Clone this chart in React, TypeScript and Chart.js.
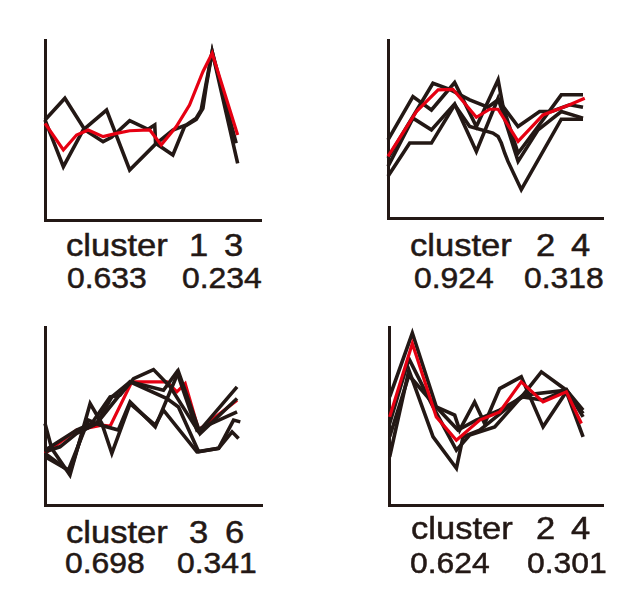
import React, { useEffect, useRef } from "react";
import { Chart, registerables } from "chart.js";
Chart.register(...registerables);

type P = [number, number];

// ---- data (x: position along time axis 0-100, y: relative expression 0-100) ----
const c1Red: P[] = [[0,53.7],[8.5,38.9],[14.6,47.2],[20,50],[26.9,46.3],[33.1,48.1],[39.2,49.6],[48.5,50],[53.8,41.7],[60.8,51.9],[66.9,63.9],[73.1,82.4],[77.4,92.6],[89.2,47.2]];
const c1A: P[] = [[0,55.6],[9.2,67.6],[18.5,50],[26.9,43.5],[30.8,45.9],[39.2,55.2],[47.7,50.4],[50.8,52.8],[51.2,42.6],[59.2,36.1],[64.6,51.9],[70,55.9],[73.1,62],[74.6,74.1],[77.4,93.5],[88.5,42.6]];
const c1B: P[] = [[0,55.6],[8.5,29.6],[17.7,50],[28.5,61.1],[39.2,27.8],[50.8,41.7],[59.2,50],[65.4,52.8],[70,56.5],[72.3,61.1],[74.6,75.9],[77.4,93.5],[89.2,31.5]];

const c2Red: P[] = [[0,34.6],[13.2,59.8],[23.3,72],[30.2,72.3],[41.1,56.6],[47.3,61.1],[51.2,61.1],[60.5,43],[72.1,57.9],[84.5,63.6],[91.5,67.3]];
const c2A: P[] = [[0,43.9],[11.6,68.2],[20.2,60.7],[31,76.1],[41.1,51.4],[51.2,77.6],[53.5,62.6],[60.5,36.4],[69.8,51.4],[80.6,69.2],[90.7,69.2]];
const c2B: P[] = [[0,33.6],[20.9,75.7],[28.7,72.3],[38,66.4],[46.5,62.2],[51.2,66.4],[60.5,51.4],[70.5,59.8],[76,59.8],[84.5,63.6],[90.7,62.2]];
const c2C: P[] = [[0,29],[11.6,56.1],[20.2,49.5],[31,64.1],[41.1,37.4],[51.2,67.3],[60.5,31.8],[69.8,49.5],[80.6,59.8],[90.7,56.1]];
const c2D: P[] = [[0,23.4],[10.1,42.1],[20.2,42.1],[31,63.6],[38,51.4],[48.8,47.7],[51.2,45.8],[52.7,42.1],[54.3,36.4],[55.8,31.8],[62,15.9],[80.6,55.5],[90.7,55.5]];

const c3Red: P[] = [[0,29],[14.6,42.1],[26.2,44.9],[30,44.3],[40,69.2],[56.2,69.2],[60.8,63.6],[64.6,68.2],[70.8,42.1],[88.5,58.9]];
const c3A: P[] = [[0,45.8],[3.1,31.8],[11.5,16.8],[20.8,57],[26.2,45.8],[30.8,29],[39.2,57],[50.8,44.9],[54.6,53.3],[70,29.9],[80,31.8],[86.2,41.1],[89.2,37.4]];
const c3B: P[] = [[0,30.8],[14.6,42.1],[21.5,45.8],[30,60.7],[34.6,61.7],[40.8,71],[50,76.1],[57.7,66.4],[70.8,41.1],[88.5,66.4]];
const c3C: P[] = [[0,27.1],[10.8,19.6],[20,47.7],[25.4,44.9],[33.8,42.1],[39.2,57.9],[50.8,43.9],[61.5,74.8],[71.5,40.2],[88.5,59.8]];
const c3D: P[] = [[0,29.9],[6.9,32.7],[14.6,40.2],[23.8,45.8],[30.8,60.7],[39.2,69.2],[56.2,59.8],[61.5,55.1],[70.8,29.9],[80,31.8],[86.9,47.7],[90,46.7]];
const c3E: P[] = [[0,29],[11.5,18.7],[17.7,42.1],[23.8,45.8],[39.2,69.2],[54.6,64.5],[60.8,74.8],[70,42.1],[88.5,52.3]];

const c4Red: P[] = [[0.3,49.5],[10.9,90.7],[22.1,49.5],[31.5,36.4],[42.4,47.7],[51.7,52.3],[61.8,69.2],[72,57.9],[82.9,63.6],[89.9,45.8]];
const c4A: P[] = [[0.3,60.7],[10.9,96.6],[22.1,55.1],[30.7,50.5],[33,42.1],[40,57.9],[44.7,45.8],[51.7,65.4],[61.8,72],[72,43.9],[82.9,63.6],[90.7,38.3]];
const c4B: P[] = [[0.3,45.8],[9.3,82.2],[20.6,55.1],[31.5,30.8],[37.7,39.3],[49.4,43.9],[62.6,61.7],[71.2,74.8],[82.9,64.5],[90.7,53.3]];
const c4C: P[] = [[0.3,27.1],[9.3,75.7],[20.6,38.3],[31.5,20.6],[34.6,38.3],[42.4,42.1],[62.6,61.7],[82.9,64.5],[90.7,51.4]];
const c4D: P[] = [[0.3,38.3],[9.3,72.9],[22.1,55.1],[32.2,42.1],[40.8,47.7],[51.7,53.3],[62.6,60.7],[72,58.9],[82.9,64.9],[90.7,49.5]];

const clusterNames = ["cluster", "cluster", "cluster", "cluster"];
const clusterIds: [string, string][] = [["1", "3"], ["2", "4"], ["3", "6"], ["2", "4"]];
const scoresA = ["0.633", "0.924", "0.698", "0.624"];
const scoresB = ["0.234", "0.318", "0.341", "0.301"];

// ---- styles / layout ----
const BLACK = "#231815";
const RED = "#e60012";
const PAD = 6;

type Series = { pts: P[]; color: string };
const panelSeries: Series[][] = [
  [{ pts: c1Red, color: RED }, { pts: c1A, color: BLACK }, { pts: c1B, color: BLACK }],
  [{ pts: c2Red, color: RED }, { pts: c2A, color: BLACK }, { pts: c2B, color: BLACK }, { pts: c2C, color: BLACK }, { pts: c2D, color: BLACK }],
  [{ pts: c3A, color: BLACK }, { pts: c3B, color: BLACK }, { pts: c3C, color: BLACK }, { pts: c3D, color: BLACK }, { pts: c3E, color: BLACK }, { pts: c3Red, color: RED }],
  [{ pts: c4Red, color: RED }, { pts: c4A, color: BLACK }, { pts: c4B, color: BLACK }, { pts: c4C, color: BLACK }, { pts: c4D, color: BLACK }],
];

// chart area boxes: [left, top, right, bottom]
const areas: [number, number, number, number][] = [
  [45, 40, 261, 220],
  [388, 40, 603, 218],
  [45, 327, 262, 505],
  [389, 327, 603, 505],
];

// label layout: cluster word x, id1 x, id2 x, baseline; score1 x, score2 x, baseline
const labelPos = [
  { cx: [65.5, 188.5, 223.5], cb: 256, sx: [67, 182], sb: 288.3 },
  { cx: [409.5, 535.5, 570.5], cb: 256, sx: [413.7, 523.7], sb: 288.3 },
  { cx: [65.5, 188.7, 225.3], cb: 543.3, sx: [65.4, 177], sb: 574 },
  { cx: [410.5, 535.5, 570.5], cb: 539.3, sx: [410.4, 527], sb: 573.3 },
];

const FONT = '"Liberation Sans", Arial, Helvetica, sans-serif';
const BIG = 32, BIGX = 1.08;
const SMALL = 29, SMALLX = 1.1;

function Txt({ t, x, base, size, sx }: { t: string; x: number; base: number; size: number; sx: number }) {
  return (
    <span
      style={{
        position: "absolute",
        left: x,
        top: base - 0.8465 * size,
        fontFamily: FONT,
        fontSize: size,
        lineHeight: `${size}px`,
        color: BLACK,
        WebkitTextStroke: `0.5px ${BLACK}`,
        whiteSpace: "nowrap",
        transform: `scaleX(${sx})`,
        transformOrigin: "0 0",
      }}
    >
      {t}
    </span>
  );
}

function Panel({ idx }: { idx: number }) {
  const ref = useRef<HTMLCanvasElement | null>(null);
  const [l, t, r, b] = areas[idx];
  const w = r - l + PAD * 2;
  const h = b - t + PAD * 2;
  useEffect(() => {
    if (!ref.current) return;
    const axis = {
      type: "linear" as const,
      min: 0,
      max: 100,
      ticks: { display: false },
      grid: { display: false, drawTicks: false },
      border: { display: true, width: 3, color: BLACK },
    };
    const chart = new Chart(ref.current, {
      type: "line",
      data: {
        datasets: panelSeries[idx].map((s) => ({
          data: s.pts.map(([x, y]) => ({ x, y })),
          borderColor: s.color,
          borderWidth: s.color === RED ? 3.2 : 3.6,
          pointRadius: 0,
          tension: 0,
          fill: false,
          clip: false as any,
          borderJoinStyle: "miter" as const,
          borderCapStyle: "butt" as const,
        })),
      },
      options: {
        animation: false,
        responsive: false,
        events: [],
        layout: { padding: PAD },
        plugins: { legend: { display: false }, tooltip: { enabled: false } },
        scales: { x: axis, y: axis },
      },
    });
    return () => chart.destroy();
  }, [idx]);
  return (
    <canvas
      ref={ref}
      width={w}
      height={h}
      style={{ position: "absolute", left: l - PAD, top: t - PAD, width: w, height: h }}
    />
  );
}

export default function App() {
  return (
    <div style={{ position: "absolute", left: 0, top: 0, width: 630, height: 616, background: "#fff" }}>
      {[0, 1, 2, 3].map((i) => (
        <Panel key={i} idx={i} />
      ))}
      {labelPos.map((p, i) => (
        <React.Fragment key={"l" + i}>
          <Txt t={clusterNames[i]} x={p.cx[0]} base={p.cb} size={BIG} sx={BIGX} />
          <Txt t={clusterIds[i][0]} x={p.cx[1]} base={p.cb} size={BIG} sx={BIGX} />
          <Txt t={clusterIds[i][1]} x={p.cx[2]} base={p.cb} size={BIG} sx={BIGX} />
          <Txt t={scoresA[i]} x={p.sx[0]} base={p.sb} size={SMALL} sx={SMALLX} />
          <Txt t={scoresB[i]} x={p.sx[1]} base={p.sb} size={SMALL} sx={SMALLX} />
        </React.Fragment>
      ))}
    </div>
  );
}
